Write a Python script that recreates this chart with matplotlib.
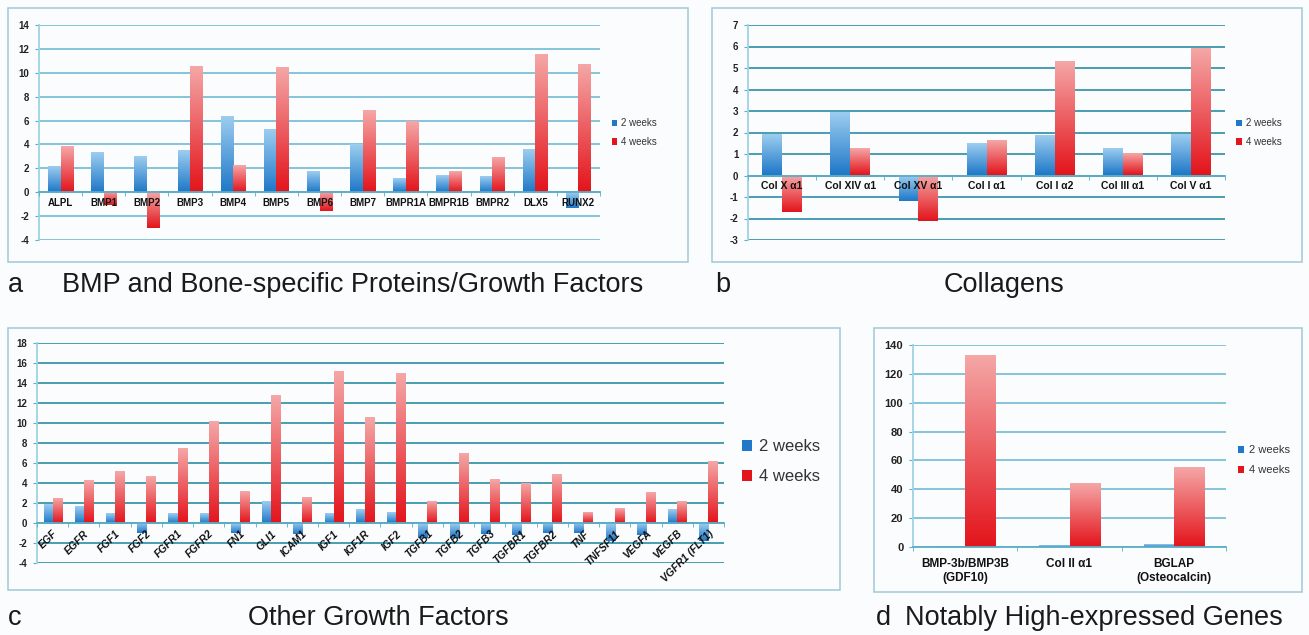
import numpy as np
import matplotlib
matplotlib.use("Agg")
import matplotlib.pyplot as plt
from matplotlib.patches import Rectangle
from matplotlib.colors import LinearSegmentedColormap

plt.rcParams['font.family'] = ['Liberation Sans', 'DejaVu Sans']
plt.rcParams['axes.unicode_minus'] = False

# ----- data -----
genes_a = ["ALPL", "BMP1", "BMP2", "BMP3", "BMP4", "BMP5", "BMP6", "BMP7",
           "BMPR1A", "BMPR1B", "BMPR2", "DLX5", "RUNX2"]
wk2_a = [2.1, 3.3, 3.0, 3.5, 6.3, 5.2, 1.7, 4.0, 1.1, 1.4, 1.3, 3.6, -1.3]
wk4_a = [3.8, -1.1, -3.0, 10.5, 2.2, 10.4, -1.6, 6.8, 5.9, 1.7, 2.9, 11.5, 10.7]

genes_b = ["Col X α1", "Col XIV α1", "Col XV α1", "Col I α1", "Col I α2",
           "Col III α1", "Col V α1"]
wk2_b = [1.9, 2.9, -1.2, 1.45, 1.85, 1.25, 1.9]
wk4_b = [-1.7, 1.25, -2.1, 1.6, 5.3, 1.0, 5.9]

genes_c = ["EGF", "EGFR", "FGF1", "FGF2", "FGFR1", "FGFR2", "FN1", "GLI1",
           "ICAM1", "IGF1", "IGF1R", "IGF2", "TGFB1", "TGFB2", "TGFB3",
           "TGFBR1", "TGFBR2", "TNF", "TNFSF11", "VEGFA", "VEGFB", "VGFR1 (FLT1)"]
wk2_c = [1.9, 1.7, 1.0, -1.05, 1.0, 1.0, -1.0, 2.2, -1.15, 1.0, 1.4, 1.1,
         -1.5, -1.5, -1.1, -1.2, -1.05, -1.05, -1.8, -1.2, 1.4, -1.8]
wk4_c = [2.5, 4.3, 5.2, 4.7, 7.5, 10.2, 3.2, 12.8, 2.6, 15.2, 10.6, 15.0,
         2.2, 7.0, 4.4, 4.0, 4.9, 1.1, 1.5, 3.1, 2.2, 6.2]

genes_d = ["BMP-3b/BMP3B\n(GDF10)", "Col II α1", "BGLAP\n(Osteocalcin)"]
wk2_d = [0.5, 0.8, 2.0]
wk4_d = [133, 44, 55]

series = ["2 weeks", "4 weeks"]

W, H = 1309, 635
fig = plt.figure(figsize=(W / 100, H / 100), dpi=100)
fig.patch.set_facecolor('#fbfcfd')

BLUE = ('#9ccdf0', '#1f78c8')
RED = ('#f5a6a6', '#e3151c')


def fr(x0, y0, x1, y1):
    # pixel box -> figure fraction rect
    return [x0 / W, 1 - y1 / H, (x1 - x0) / W, (y1 - y0) / H]


def shade(ax, bars, cols):
    cmap = LinearSegmentedColormap.from_list('g', [cols[1], cols[0]])
    grad = np.linspace(0, 1, 64).reshape(-1, 1)
    for b in bars:
        x, y, w, h = b.get_x(), b.get_y(), b.get_width(), b.get_height()
        y0, y1 = min(y, y + h), max(y, y + h)
        ax.imshow(grad, cmap=cmap, extent=[x, x + w, y0, y1], origin='lower',
                  aspect='auto', zorder=2)
        b.set_facecolor('none')
        b.set_edgecolor('none')


def panel(rect, cats, v2, v4, ylim, step, grid_col, zero_axis=True,
          lab_kw=None, tick_fs=7, leg_fs=7, leg_y=0.5):
    ax = fig.add_axes(rect)
    ax.set_facecolor('none')
    x = np.arange(len(cats))
    w = 0.29
    b2 = ax.bar(x - w / 2, v2, w, color=BLUE[1], label=series[0], zorder=2)
    b4 = ax.bar(x + w / 2, v4, w, color=RED[1], label=series[1], zorder=2)
    shade(ax, b2, BLUE)
    shade(ax, b4, RED)
    ax.set_xlim(-0.5, len(cats) - 0.5)
    ax.set_ylim(*ylim)
    ax.set_yticks(np.arange(ylim[0], ylim[1] + step / 2, step))
    ax.yaxis.grid(True, color=grid_col, lw=1.3, zorder=0)
    ax.set_axisbelow(True)
    ax.xaxis.set_zorder(5)  # category labels sit on top of the bars
    for s in ('top', 'right'):
        ax.spines[s].set_visible(False)
    ax.spines['left'].set_color('#9fd3e3')
    ax.spines['left'].set_linewidth(1.3)
    ax.spines['bottom'].set_color('#5aaec6')
    ax.spines['bottom'].set_linewidth(1.3)
    if zero_axis:
        ax.spines['bottom'].set_position(('data', 0))
    ax.tick_params(axis='y', length=3, color='#5aaec6', labelsize=tick_fs,
                   labelcolor='#222222', pad=4)
    for t in ax.get_yticklabels():
        t.set_fontweight('bold')
    ax.set_xticks(x)
    ax.set_xticks(np.arange(len(cats) + 1) - 0.5, minor=True)
    ax.tick_params(axis='x', which='major', length=0, pad=4)
    ax.tick_params(axis='x', which='minor', length=3, color='#5aaec6')
    kw = dict(fontsize=7, fontweight='bold', color='#111111')
    kw.update(lab_kw or {})
    ax.set_xticklabels(cats, **kw)
    leg = ax.legend(loc='center left', bbox_to_anchor=(1.005, leg_y),
                    frameon=False, fontsize=leg_fs, handlelength=0.6,
                    handleheight=0.6, handletextpad=0.4, labelspacing=0.9)
    for h, c in zip(leg.legend_handles, (BLUE[1], RED[1])):
        h.set_facecolor(c)
    for t in leg.get_texts():
        t.set_color('#333333')
    return ax


# panel a
panel(fr(39, 25, 600, 240), genes_a, wk2_a, wk4_a, (-4, 14), 2, '#7cc0d8')
# panel b
panel(fr(748, 25, 1225, 240), genes_b, wk2_b, wk4_b, (-3, 7), 1, '#3b97ad',
      lab_kw=dict(fontsize=7.5))
# panel c
panel(fr(37, 343, 724, 563), genes_c, wk2_c, wk4_c, (-4, 18), 2, '#3b97ad',
      lab_kw=dict(fontsize=7.5, fontstyle='italic', rotation=45, ha='right',
                  rotation_mode='anchor'),
      leg_fs=12, leg_y=0.46)
# panel d
axd = panel(fr(913, 345, 1226, 547), genes_d, wk2_d, wk4_d, (0, 140), 20,
            '#7cc0d8', zero_axis=False, lab_kw=dict(fontsize=8.5),
            tick_fs=8, leg_fs=8, leg_y=0.43)
axd.tick_params(axis='x', which='major', pad=8)

# panel frames
for x0, y0, x1, y1 in [(8, 8, 688, 262), (712, 8, 1302, 262),
                       (8, 328, 840, 590), (874, 328, 1302, 592)]:
    fig.patches.append(Rectangle((x0 / W, 1 - y1 / H), (x1 - x0) / W,
                                 (y1 - y0) / H, transform=fig.transFigure,
                                 fill=False, ec='#a9cdd8', lw=1.2))

# captions
cap = dict(fontsize=19.5, color='#1a1a1a', va='center')
fig.text(8 / W, 1 - 285 / H, "a", **cap)
fig.text(62 / W, 1 - 285 / H, "BMP and Bone-specific Proteins/Growth Factors", **cap)
fig.text(715 / W, 1 - 285 / H, "b", **cap)
fig.text(1004 / W, 1 - 285 / H, "Collagens", ha='center', **cap)
fig.text(8 / W, 1 - 618 / H, "c", **cap)
fig.text(378 / W, 1 - 618 / H, "Other Growth Factors", ha='center', **cap)
fig.text(876 / W, 1 - 618 / H, "d", **cap)
fig.text(905 / W, 1 - 618 / H, "Notably High-expressed Genes", **cap)

fig.savefig("out.png", dpi=100, facecolor=fig.get_facecolor())
